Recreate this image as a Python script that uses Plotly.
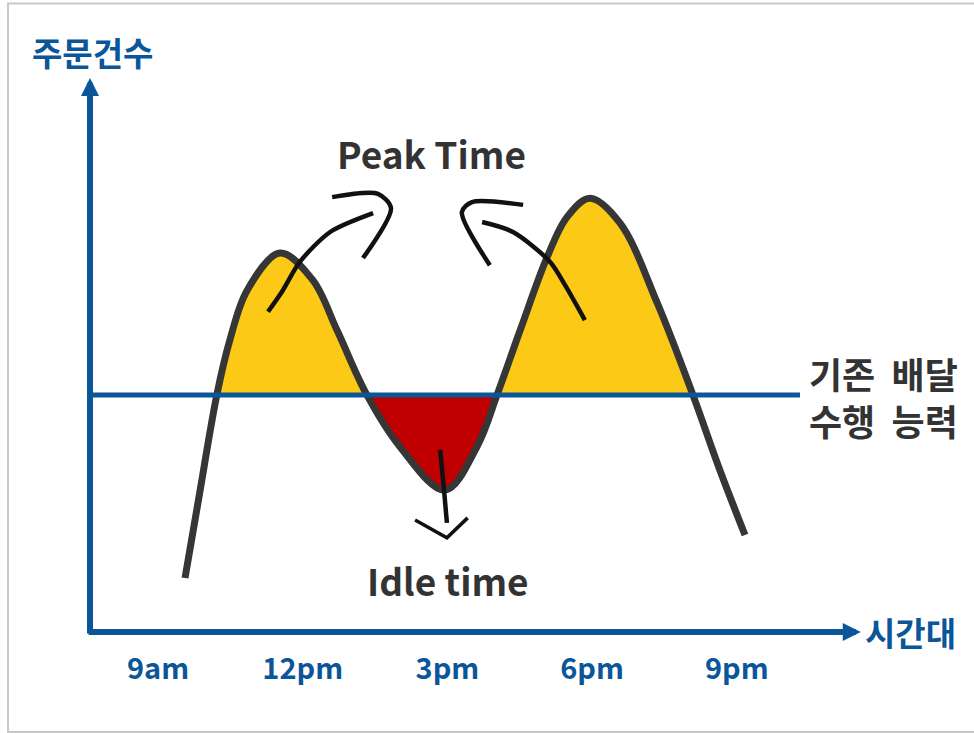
import plotly.graph_objects as go

# ---------------- data (hours of day, order volume in relative units) ----------------
ORDER_HOURS = [9.56, 9.85, 10.22, 10.49, 10.85, 11.53, 12.21, 12.71, 13.33, 14.02, 14.95,
               15.61, 16.03, 16.51, 17.07, 17.48, 17.96, 18.58, 19.35, 20.09, 20.65, 21.17]
ORDER_COUNTS = [9.75, 24.4, 42.8, 52.7, 61.7, 68.4, 63.5, 54.5, 42.8, 33.4, 25.6,
                33.4, 42.8, 54.5, 67.7, 74.9, 78.3, 73.8, 59.4, 42.8, 29.2, 17.5]
CAPACITY = 42.8
CAPACITY_SPAN = [7.59, 22.31]

TICK_HOURS = [9, 12, 15, 18, 21]
TICK_LABELS = ["9am", "12pm", "3pm", "6pm", "9pm"]

# segments (index ranges into the curve) and whether they are peak (above) or idle (below)
SEGMENTS = [(2, 8, "peak"), (8, 12, "idle"), (12, 19, "peak")]

BLUE = "#0A5699"
DARK = "#363636"
YELLOW = "#FCC917"
RED = "#C00000"
FONT = "Noto Sans CJK KR"

fig = go.Figure()

# fills between demand curve and capacity
for i0, i1, kind in SEGMENTS:
    xs = ORDER_HOURS[i0:i1 + 1]
    ys = ORDER_COUNTS[i0:i1 + 1]
    fig.add_trace(go.Scatter(x=[xs[0], xs[-1]], y=[CAPACITY, CAPACITY], mode="lines",
                             line=dict(width=0), hoverinfo="skip", showlegend=False))
    fig.add_trace(go.Scatter(x=xs, y=ys, mode="lines", fill="tonexty",
                             fillcolor=YELLOW if kind == "peak" else RED,
                             line=dict(width=0, shape="spline", smoothing=1.0),
                             hoverinfo="skip", showlegend=False))

# demand curve
fig.add_trace(go.Scatter(x=ORDER_HOURS, y=ORDER_COUNTS, mode="lines",
                         line=dict(color=DARK, width=7, shape="spline", smoothing=1.0),
                         showlegend=False))

# capacity line
fig.add_trace(go.Scatter(x=CAPACITY_SPAN, y=[CAPACITY, CAPACITY], mode="lines",
                         line=dict(color=BLUE, width=5), showlegend=False))

# hand-drawn style arrows (decoration)
strokes = [
    ([11.28, 11.59, 11.94, 12.57, 13.46], [57.8, 61.7, 66.8, 72.2, 75.6]),
    ([12.61, 13.56, 13.83, 13.25], [78.5, 79.1, 76.5, 67.5]),
    ([17.85, 17.44, 17.13, 16.36, 15.72], [56.3, 62.6, 66.8, 72.2, 74.0]),
    ([16.57, 15.51, 15.30, 15.88], [77.1, 77.6, 75.8, 66.2]),
    ([14.85, 14.93, 14.99], [32.9, 25.6, 19.7]),
]
for sx, sy in strokes:
    fig.add_trace(go.Scatter(x=sx, y=sy, mode="lines",
                             line=dict(color="#111111", width=4.5, shape="spline", smoothing=0.8),
                             hoverinfo="skip", showlegend=False))
fig.add_trace(go.Scatter(x=[14.33, 14.99, 15.42], y=[20.2, 17.0, 20.6], mode="lines",
                         line=dict(color="#111111", width=3.5), hoverinfo="skip", showlegend=False))

# axis arrows
fig.add_annotation(x=7.59, y=100, ax=7.59, ay=-0.55, xref="x", yref="y", axref="x", ayref="y",
                   text="", showarrow=True, arrowhead=2, arrowsize=0.6, arrowwidth=6,
                   arrowcolor=BLUE)
fig.add_annotation(x=23.57, y=0, ax=7.53, ay=0, xref="x", yref="y", axref="x", ayref="y",
                   text="", showarrow=True, arrowhead=2, arrowsize=0.6, arrowwidth=6,
                   arrowcolor=BLUE)

# texts
fig.add_annotation(x=7.65, y=104.7, xref="x", yref="y", text="주문건수", showarrow=False,
                   font=dict(family=FONT, size=33, color=BLUE, weight="bold"))
fig.add_annotation(x=24.61, y=0, xref="x", yref="y", text="시간대", showarrow=False,
                   font=dict(family=FONT, size=33, color=BLUE, weight="bold"))
fig.add_annotation(x=14.66, y=86.5, xref="x", yref="y", text="Peak Time", showarrow=False,
                   font=dict(family=FONT, size=37, color="#333333", weight="bold"))
fig.add_annotation(x=15.01, y=9.4, xref="x", yref="y", text="Idle time", showarrow=False,
                   font=dict(family=FONT, size=37, color="#333333", weight="bold"))
fig.add_annotation(x=22.45, y=42.6, xref="x", yref="y", text="기존  배달<br>수행  능력",
                   showarrow=False, xanchor="left", align="left",
                   font=dict(family=FONT, size=36, color="#333333", weight="bold"))

# frame
fig.add_shape(type="rect", xref="paper", yref="paper", x0=8 / 974, x1=1.05,
              y0=-0.1582, y1=0.9945, line=dict(color="#c8c8c8", width=2))

fig.update_layout(
    width=974, height=733,
    margin=dict(l=0, r=0, t=0, b=101),
    paper_bgcolor="white", plot_bgcolor="white",
    xaxis=dict(range=[5.724, 25.918], showgrid=False, zeroline=False, showline=False,
               tickvals=TICK_HOURS, ticktext=TICK_LABELS, ticks="",
               tickfont=dict(family=FONT, size=29, color=BLUE, weight="bold"),
               ticklabelstandoff=17),
    yaxis=dict(range=[0, 114.08], visible=False),
)

fig.write_html("out.html", config={"displayModeBar": False},
               post_script="document.body.style.margin='0';")
